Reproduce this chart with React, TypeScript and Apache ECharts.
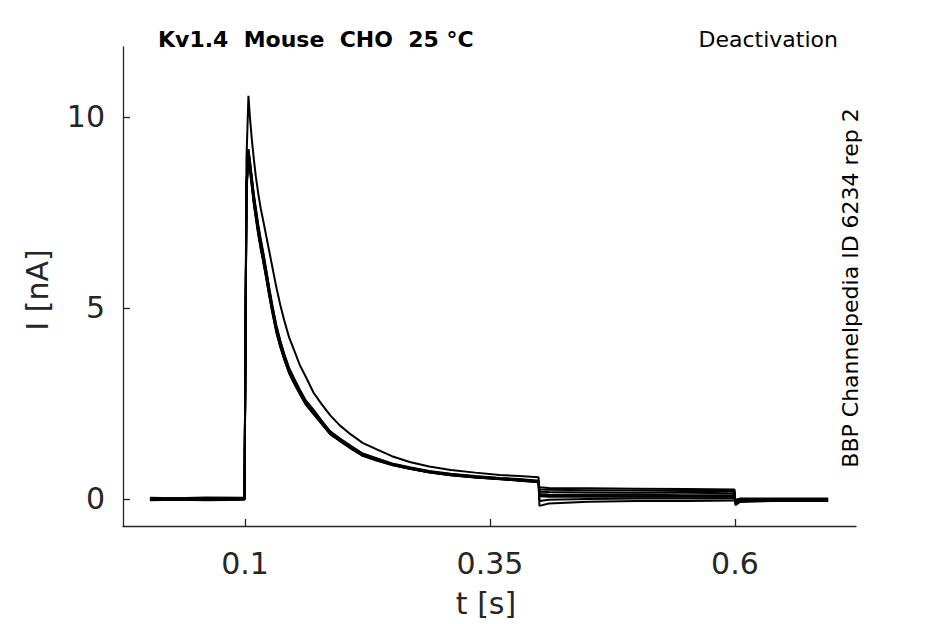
import React, { useEffect, useRef } from "react";
import * as echarts from "echarts";

// shared sample times [s]
const times = [
  0.003, 0.03, 0.06, 0.0995,
  0.1015, 0.1035, 0.105, 0.107, 0.109, 0.111, 0.1135, 0.116, 0.119, 0.122,
  0.125, 0.128, 0.132, 0.136, 0.14, 0.145, 0.15, 0.156, 0.162, 0.17,
  0.178, 0.187, 0.197, 0.208, 0.22, 0.235, 0.25, 0.268, 0.288, 0.31,
  0.335, 0.36, 0.38, 0.3995,
  0.4005, 0.41, 0.45, 0.5, 0.55, 0.5995, 0.6005, 0.605, 0.64, 0.695,
];

// current traces [nA]
const sweepTop = [
  0.0, 0.01, -0.01, 0.0,
  8.9, 10.55, 10.0, 9.4, 8.9, 8.45, 8.0, 7.61, 7.23, 6.84,
  6.45, 6.06, 5.54, 5.08, 4.68, 4.23, 3.9, 3.5, 3.2, 2.78,
  2.49, 2.19, 1.92, 1.69, 1.47, 1.29, 1.12, 0.97, 0.85, 0.76,
  0.69, 0.625, 0.6, 0.57,
  0.08, 0.08, 0.08, 0.07, 0.07, 0.07, -0.04, -0.02, -0.01, 0.0,
];
const sweep1 = [
  0.03, 0.02, 0.04, 0.03,
  8.2, 9.12, 8.78, 8.33, 7.88, 7.52, 7.08, 6.71, 6.3, 5.86,
  5.4, 4.98, 4.47, 4.08, 3.74, 3.37, 3.11, 2.81, 2.53, 2.28,
  2.02, 1.73, 1.55, 1.36, 1.16, 1.03, 0.91, 0.81, 0.71, 0.64,
  0.58, 0.535, 0.5, 0.46,
  0.31, 0.29, 0.28, 0.27, 0.26, 0.25, -0.16, -0.08, -0.05, -0.05,
];
const sweep2 = [
  0.01, 0.02, 0.0, 0.01,
  8.1, 9.05, 8.7, 8.25, 7.8, 7.44, 7.0, 6.63, 6.22, 5.79,
  5.33, 4.92, 4.41, 4.03, 3.69, 3.33, 3.07, 2.78, 2.5, 2.25,
  2.0, 1.71, 1.53, 1.34, 1.15, 1.02, 0.9, 0.8, 0.7, 0.63,
  0.57, 0.525, 0.49, 0.45,
  0.25, 0.24, 0.23, 0.22, 0.21, 0.21, -0.12, -0.06, -0.04, -0.04,
];
const sweep3 = [
  -0.01, 0.0, 0.01, 0.0,
  8.3, 9.16, 8.86, 8.42, 7.98, 7.62, 7.18, 6.81, 6.4, 5.95,
  5.49, 5.06, 4.55, 4.15, 3.8, 3.43, 3.16, 2.86, 2.58, 2.33,
  2.06, 1.77, 1.58, 1.39, 1.19, 1.06, 0.93, 0.83, 0.73, 0.66,
  0.6, 0.55, 0.52, 0.48,
  0.19, 0.18, 0.17, 0.16, 0.16, 0.15, -0.1, -0.05, -0.03, -0.03,
];
const sweep4 = [
  -0.03, -0.02, -0.03, -0.02,
  8.0, 9.0, 8.62, 8.16, 7.71, 7.35, 6.92, 6.55, 6.15, 5.72,
  5.27, 4.86, 4.36, 3.98, 3.65, 3.29, 3.03, 2.74, 2.47, 2.22,
  1.97, 1.69, 1.51, 1.32, 1.13, 1.0, 0.89, 0.79, 0.69, 0.62,
  0.56, 0.515, 0.48, 0.44,
  0.13, 0.12, 0.11, 0.11, 0.1, 0.1, -0.07, -0.04, -0.02, -0.02,
];
const sweep5 = [
  0.02, 0.01, 0.02, 0.02,
  8.25, 9.14, 8.82, 8.38, 7.94, 7.58, 7.14, 6.77, 6.36, 5.91,
  5.45, 5.02, 4.51, 4.12, 3.77, 3.4, 3.14, 2.84, 2.56, 2.3,
  2.04, 1.75, 1.57, 1.38, 1.18, 1.05, 0.92, 0.82, 0.72, 0.65,
  0.59, 0.545, 0.51, 0.47,
  0.07, 0.06, 0.06, 0.06, 0.06, 0.05, -0.05, -0.03, -0.01, -0.01,
];
const sweep6 = [
  -0.02, -0.01, -0.02, -0.01,
  8.15, 9.09, 8.75, 8.29, 7.84, 7.48, 7.04, 6.67, 6.26, 5.83,
  5.37, 4.95, 4.44, 4.06, 3.72, 3.35, 3.09, 2.8, 2.52, 2.27,
  2.01, 1.72, 1.54, 1.35, 1.16, 1.03, 0.91, 0.81, 0.71, 0.64,
  0.58, 0.53, 0.495, 0.455,
  -0.05, -0.02, 0.0, 0.01, 0.01, 0.01, -0.03, -0.02, 0.0, 0.0,
];
const sweep7 = [
  0.0, -0.01, -0.01, 0.0,
  8.05, 9.02, 8.66, 8.2, 7.75, 7.4, 6.96, 6.59, 6.18, 5.75,
  5.3, 4.89, 4.38, 4.0, 3.67, 3.31, 3.05, 2.76, 2.48, 2.23,
  1.98, 1.7, 1.52, 1.33, 1.14, 1.01, 0.89, 0.79, 0.7, 0.62,
  0.565, 0.52, 0.485, 0.445,
  -0.18, -0.12, -0.07, -0.05, -0.05, -0.04, -0.02, 0.01, 0.01, 0.01,
];

const sweeps = [sweep1, sweep2, sweep3, sweep4, sweep5, sweep6, sweep7, sweepTop];

const xTicks = [0.1, 0.35, 0.6];
const yTicks = [0, 5, 10];

const FONT = "DejaVu Sans";
const AXIS_COLOR = "#262626";

const App: React.FC = () => {
  const chartRef = useRef<HTMLDivElement | null>(null);

  useEffect(() => {
    document.body.style.margin = "0";
    if (!chartRef.current) return;
    const chart = echarts.init(chartRef.current, undefined, { renderer: "svg" });

    const option = {
      animation: false,
      textStyle: { fontFamily: FONT },
      grid: { left: 123, right: 89, top: 47, bottom: 98 },
      xAxis: {
        type: "value",
        min: -0.0245,
        max: 0.7235,
        splitLine: { show: false },
        axisLine: { show: true, onZero: false, lineStyle: { color: AXIS_COLOR, width: 1.3 } },
        axisTick: {
          show: true,
          inside: true,
          length: 7,
          customValues: xTicks,
          lineStyle: { color: AXIS_COLOR, width: 1.3 },
        },
        axisLabel: {
          customValues: xTicks,
          formatter: (v: number) => String(v),
          color: AXIS_COLOR,
          fontSize: 30,
          fontFamily: FONT,
          margin: 22,
        },
      },
      yAxis: {
        type: "value",
        min: -0.707,
        max: 11.83,
        splitLine: { show: false },
        axisLine: { show: true, onZero: false, lineStyle: { color: AXIS_COLOR, width: 1.3 } },
        axisTick: {
          show: true,
          inside: true,
          length: 7,
          customValues: yTicks,
          lineStyle: { color: AXIS_COLOR, width: 1.3 },
        },
        axisLabel: {
          customValues: yTicks,
          color: AXIS_COLOR,
          fontSize: 30,
          fontFamily: FONT,
          margin: 18,
        },
      },
      graphic: [
        {
          type: "text",
          x: 158,
          y: 39,
          style: {
            text: "Kv1.4  Mouse  CHO  25 °C",
            fontFamily: FONT,
            fontSize: 22,
            fontWeight: "bold",
            fill: "#000",
            verticalAlign: "middle",
          },
        },
        {
          type: "text",
          x: 838,
          y: 39,
          style: {
            text: "Deactivation",
            fontFamily: FONT,
            fontSize: 22,
            fill: "#000",
            align: "right",
            verticalAlign: "middle",
          },
        },
        {
          type: "text",
          x: 850,
          y: 288,
          rotation: Math.PI / 2,
          style: {
            text: "BBP Channelpedia ID 6234 rep 2",
            fontFamily: FONT,
            fontSize: 22,
            fill: "#000",
            align: "center",
            verticalAlign: "middle",
          },
        },
        {
          type: "text",
          x: 486,
          y: 603,
          style: {
            text: "t [s]",
            fontFamily: FONT,
            fontSize: 30,
            fill: AXIS_COLOR,
            align: "center",
            verticalAlign: "middle",
          },
        },
        {
          type: "text",
          x: 37,
          y: 290,
          rotation: Math.PI / 2,
          style: {
            text: "I [nA]",
            fontFamily: FONT,
            fontSize: 30,
            fill: AXIS_COLOR,
            align: "center",
            verticalAlign: "middle",
          },
        },
      ],
      series: sweeps.map((vals, k) => ({
        type: "line",
        name: "sweep " + (k + 1),
        data: times.map((t, i) => [t, vals[i]]),
        showSymbol: false,
        symbol: "none",
        lineStyle: { color: "#000", width: 2 },
        silent: true,
      })),
    };

    chart.setOption(option);

    return () => {
      chart.dispose();
    };
  }, []);

  return <div ref={chartRef} style={{ width: "945px", height: "624px" }} />;
};

export default App;
